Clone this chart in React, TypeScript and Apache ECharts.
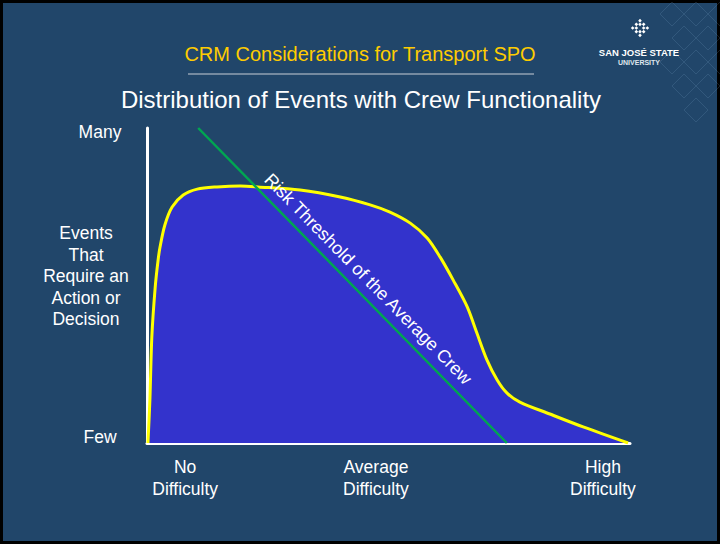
import React, { useEffect, useRef } from "react";
import * as echarts from "echarts";

// Distribution curve (x: difficulty 0-100, y: events 0-100)
const curveX = [0.2, 0.6, 1.0, 1.7, 2.3, 2.7, 3.7, 5.2, 7.5, 10.4, 14.5, 19.3, 23.0, 31.7, 40.0, 46.2, 50.3, 54.5, 58.0, 60.7, 63.4, 66.3, 68.3, 70.4, 72.5, 74.5, 77.2, 83.4, 90.3, 99.6];
const curveY = [0, 13.7, 33.7, 49.5, 58.1, 62.2, 69.2, 74.9, 78.7, 80.6, 81.3, 81.6, 81.3, 80.3, 78.1, 75.6, 73.3, 69.8, 65.1, 59.0, 51.7, 43.2, 34.9, 26.3, 20.0, 15.9, 13.0, 9.2, 5.1, 0];

// Risk threshold line
const thresholdX = [10.6, 74.5];
const thresholdY = [100, 0];

// Axis labels
const yTickValues = [0, 100];
const yTickLabels = ["Few", "Many"];
const xTickValues = [7.9, 47.4, 94.4];
const xTickLabels = ["No\nDifficulty", "Average\nDifficulty", "High\nDifficulty"];

const slideTitle = "CRM Considerations for Transport SPO";
const chartTitle = "Distribution of Events with Crew Functionality";
const yAxisName = "Events\nThat\nRequire an\nAction or\nDecision";
const thresholdLabel = "Risk Threshold of the Average Crew";

const FONT = "Liberation Sans, Arial, sans-serif";

function diamond(cx: number, cy: number, r: number) {
  return {
    type: "polygon",
    silent: true,
    shape: { points: [[cx, cy - r], [cx + r, cy], [cx, cy + r], [cx - r, cy]] },
    style: { fill: "none", stroke: "rgba(120,160,200,0.2)", lineWidth: 1 },
  };
}

function logoIcon(cx: number, cy: number) {
  const items: any[] = [];
  const s = 2.6;
  for (let i = 0; i < 5; i++) {
    for (let j = 0; j < 5; j++) {
      if ((i + j) % 2 === 0 && !(i === 2 && j === 2)) {
        items.push({
          type: "rect",
          shape: { x: (i - 2.5) * s, y: (j - 2.5) * s, width: s, height: s },
          style: { fill: "#ffffff" },
        });
      }
    }
  }
  return { type: "group", x: cx, y: cy, rotation: Math.PI / 4, children: items, silent: true };
}

export default function App() {
  const ref = useRef<HTMLDivElement>(null);
  useEffect(() => {
    if (!ref.current) return;
    const chart = echarts.init(ref.current, null, { renderer: "svg" });
    const decor = [
      diamond(672, 14, 12), diamond(696, 14, 12), diamond(720, 14, 12),
      diamond(684, 38, 12), diamond(708, 38, 12),
      diamond(672, 62, 12), diamond(696, 62, 12), diamond(720, 62, 12),
      diamond(684, 86, 12), diamond(708, 86, 12),
      diamond(696, 110, 12),
    ];
    chart.setOption({
      animation: false,
      backgroundColor: "#000000",
      grid: { left: 147, top: 128, width: 483, height: 315, containLabel: false },
      xAxis: {
        type: "value",
        min: 0,
        max: 100,
        splitLine: { show: false },
        axisTick: { show: false },
        axisLine: { show: true, lineStyle: { color: "#ffffff", width: 3 } },
        axisLabel: {
          customValues: xTickValues,
          formatter: (v: number) => {
            const i = xTickValues.findIndex((t) => Math.abs(t - v) < 0.01);
            return i >= 0 ? xTickLabels[i] : "";
          },
          color: "#ffffff",
          fontFamily: FONT,
          fontSize: 17.5,
          lineHeight: 22,
          margin: 13,
        },
      },
      yAxis: {
        type: "value",
        min: 0,
        max: 100,
        splitLine: { show: false },
        axisTick: { show: false },
        axisLine: { show: true, lineStyle: { color: "#ffffff", width: 3 } },
        axisLabel: {
          customValues: yTickValues,
          formatter: (v: number) => {
            const i = yTickValues.indexOf(v);
            if (i < 0) return "";
            return i === 0 ? "{few|" + yTickLabels[i] + "}" : "{many|" + yTickLabels[i] + "}";
          },
          align: "center",
          margin: 47,
          rich: {
            few: { color: "#ffffff", fontFamily: FONT, fontSize: 17.5, padding: [0, 0, 12, 0] },
            many: { color: "#ffffff", fontFamily: FONT, fontSize: 17.5, padding: [8, 0, 0, 0] },
          },
        },
      },
      graphic: [
        {
          type: "rect",
          silent: true,
          z: -10,
          shape: { x: 3, y: 3, width: 714, height: 538 },
          style: { fill: "#21466a" },
        },
        ...decor.map((d: any) => ({ ...d, z: -9 })),
        logoIcon(640, 28),
        {
          type: "text",
          x: 639,
          y: 52,
          style: { text: "SAN JOSÉ STATE", fill: "#ffffff", font: "bold 9.5px " + FONT, textAlign: "center", textVerticalAlign: "middle" },
        },
        {
          type: "text",
          x: 639,
          y: 62,
          style: { text: "UNIVERSITY", fill: "#dfe6ee", font: "bold 7px " + FONT, textAlign: "center", textVerticalAlign: "middle" },
        },
        {
          type: "text",
          x: 360,
          y: 54,
          style: { text: slideTitle, fill: "#ffcc00", font: "20px " + FONT, textAlign: "center", textVerticalAlign: "middle" },
        },
        {
          type: "line",
          shape: { x1: 188, y1: 74, x2: 534, y2: 74 },
          style: { stroke: "#c9ced6", lineWidth: 1 },
        },
        {
          type: "text",
          x: 361,
          y: 99,
          style: { text: chartTitle, fill: "#ffffff", font: "24px " + FONT, textAlign: "center", textVerticalAlign: "middle" },
        },
        {
          type: "text",
          x: 86,
          y: 276,
          style: { text: yAxisName, fill: "#ffffff", font: "17.5px " + FONT, lineHeight: 21.5, textAlign: "center", textVerticalAlign: "middle" },
        },
        {
          type: "text",
          x: 368,
          y: 279,
          rotation: -Math.atan2(315, 309),
          z: 100,
          style: { text: thresholdLabel, fill: "#ffffff", font: "18px " + FONT, textAlign: "center", textVerticalAlign: "middle" },
        },
      ],
      series: [
        {
          type: "line",
          data: curveX.map((x, i) => [x, curveY[i]]),
          smooth: 0.3,
          showSymbol: false,
          lineStyle: { color: "#ffff00", width: 3 },
          areaStyle: { color: "#3333cc", opacity: 1 },
          z: 2,
        },
        {
          type: "line",
          data: thresholdX.map((x, i) => [x, thresholdY[i]]),
          showSymbol: false,
          lineStyle: { color: "#00a651", width: 2.5 },
          z: 3,
        },
      ],
    });
    return () => chart.dispose();
  }, []);
  return <div ref={ref} style={{ position: "fixed", left: 0, top: 0, width: 720, height: 544 }} />;
}
